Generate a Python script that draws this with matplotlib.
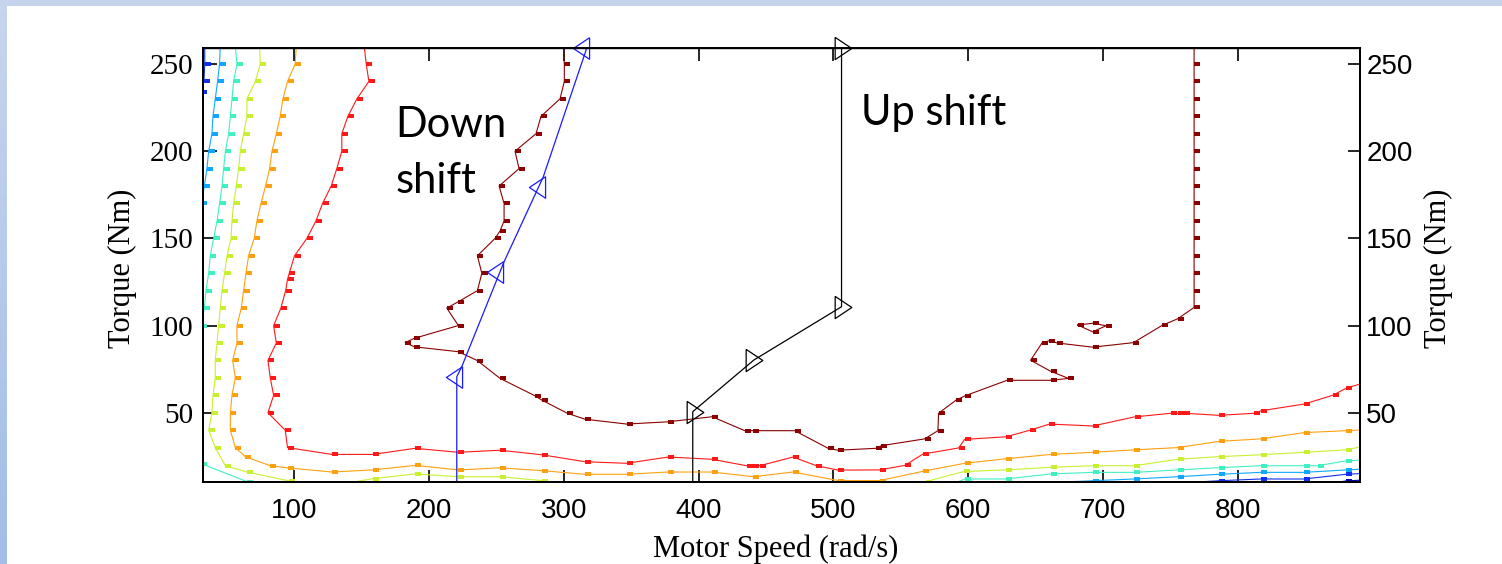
import numpy as np
import matplotlib
matplotlib.use("Agg")
import matplotlib.pyplot as plt
from matplotlib.colors import LinearSegmentedColormap
from matplotlib.patches import Rectangle

nan = np.nan

# efficiency contours (speed rad/s, torque Nm)
navy_speed = [870, 880.4, 891]
navy_torque = [9.5, 10.9, 11.3]

blue_speed = [33.6, 33.6, 33, 31, nan, 759, 786.4, 817.3, 849.4, 880.4, 891]
blue_torque = [260, 250, 240, 234, nan, 9.8, 11, 12, 12, 14.7, 15.1]

lightblue_speed = [45.1, 44.6, 43.1, 41.4, 39.7, 38.9, 36.5, 35.2, 33.3, 31, nan,
                   656, 692.5, 723.4, 755.6, 786.4, 817.3, 849.4, 880.4, 891]
lightblue_torque = [260, 250, 240, 230, 220, 210, 200, 190, 180, 170, nan,
                    9.8, 11, 12, 13.3, 14.7, 15.8, 15.8, 17.2, 17.6]

aqua_speed = [56.3, 57.5, 55, 53.8, 52.6, 51.3, 48.9, 47.6, 46.4, 44.6, 42.7, 40.2,
              37.7, 36.5, 34.5, 33.3, 31, nan, 31, 64.9, 70, nan,
              580, 598, 628, 661.5, 692.5, 723.4, 755.6, 786.4, 817.3, 849.4, 859.3, 880.4, 891]
aqua_torque = [260, 250, 240, 230, 220, 210, 200, 190, 180, 170, 160, 150,
               140, 130, 120, 110, 100, nan, 20.8, 10.5, 8.5, nan,
               7, 12, 12, 14.9, 15.8, 15.8, 17.2, 18.5, 19.6, 19.6, 19.6, 22.4, 22.8]

yellow_speed = [74.3, 74.8, 71.1, 64.9, 64.9, 62.4, 60, 58.7, 57, 55, 53.8, 53.1, 50.1,
                48.3, 46.4, 45.1, 43.9, 42.7, 41.4, 41.4, 39.7, 38.9, 36.5, 41.4, 48.9,
                64.9, 96, 120, 158.3, 189.7, 221.8, 252.7, 283.6, 320, 540, 568.6, 597,
                628.1, 661.5, 692.5, 723.4, 755.6, 786.4, 817.3, 849.4, 880.4, 891]
yellow_torque = [260, 250, 240, 230, 220, 210, 200, 190, 180, 170, 160, 150, 140,
                 130, 120, 110, 100, 90, 80, 70, 60, 50, 40, 30, 19.6,
                 16, 10.9, 7, 12.2, 14.9, 13.3, 13.3, 11.1, 7, 7, 10.5, 16.3,
                 17.2, 18.7, 19.6, 19.6, 23.3, 24.8, 25.9, 27.3, 28.7, 30.4]

orange_speed = [101.5, 100.7, 95, 91.6, 89.6, 86.7, 83.5, 81.7, 78.7, 75.3, 72.3, 70.3,
                66.1, 64.2, 62.4, 60.7, 57.5, 57.5, 54.3, 56.3, 53.8, 52.6, 52.6, 56.3,
                63.7, 82.2, 95, 127.9, 158.3, 189.7, 221.8, 252.7, 283.6, 315.7, 346.6,
                377.5, 410.1, 440.5, 470.1, 503.5, 534.4, 566.5, 597.4, 628.1, 661.5,
                692.5, 723.4, 755.6, 786.4, 817.3, 849.4, 880.4, 891]
orange_torque = [260, 250, 240, 230, 220, 210, 200, 190, 180, 170, 160, 150,
                 140, 130, 120, 110, 100, 90, 80, 70, 60, 50, 40, 30,
                 24.8, 19.6, 18.4, 16, 17.2, 19.8, 17.2, 18.4, 16.8, 14.7, 14.7,
                 16, 16, 13.3, 16, 11.1, 11.1, 16.4, 21, 23.6, 26.1,
                 27.3, 28.7, 30, 33.6, 35, 38.6, 39.7, 40.1]

red_speed = [152, 153.4, 155.4, 146.5, 139.8, 135.3, 135.3, 131.6, 127.4, 121, 116.1,
             109.4, 100.2, 96.3, 95, 93.6, 90.1, 84.7, 86.7, 80.5, 82.2, 84.7, 80.5,
             93.3, 95, 127.9, 158.3, 189.7, 221.8, 252.7, 283.6, 315.7, 346.6, 377.5,
             410.1, 435.6, 440.5, 445.4, 470.1, 487.5, 503.5, 534.4, 553, 566.5, 593,
             597.4, 628.1, 645.6, 660.4, 692.5, 723.5, 750.6, 755.6, 760.5, 786.4,
             812.4, 817.3, 849.5, 870.5, 880.4, 891]
red_torque = [260, 250, 240, 230, 220, 210, 200, 190, 180, 170, 160,
              150, 140, 130, 126.5, 120, 110, 100, 90, 80, 70, 60, 50,
              40, 30, 26.1, 26.1, 29.6, 27.3, 28.5, 25.9, 21.9, 21, 24.6,
              23.3, 19.6, 19.6, 19.6, 24.6, 19.6, 17.1, 17.2, 19.8, 26.3, 29.8,
              34.7, 36.2, 39.9, 43.5, 42.4, 47.6, 49.7, 49.7, 49.7, 48.5,
              49.7, 51.1, 55, 60, 64, 66.5]

darkred_speed = [299.7, 300.4, 300.4, 297.2, 283.1, 279.4, 263.8, 266.8, 252, 255.7,
                 255.7, 252.7, 249, 235.9, 239.2, 235.9, 221.8, 213.2, 221.8, 189.2,
                 182.3, 189.2, 221.8, 235.9, 252.7, 278.7, 283.6, 302.6, 315.7, 346.6,
                 377.5, 410.1, 434.3, 440.5, 471.4, 496.1, 503.5, 531.9, 535.6, 567.8,
                 577.6, 578.1, 591.2, 597.8, 628.9, 661.5, 674.5, 661.2, 646.4, 655,
                 660.4, 666.1, 692.5, 722.7, 744, 755.6, 767.7,
                 767.7, 767.7, 767.7, 767.7, 767.7, 767.7, 767.7, 767.7, 767.7,
                 767.7, 767.7, 767.7, 767.7, 767.7, 767.7]
darkred_torque = [260, 250, 240, 230, 220, 210, 200, 190, 180, 170,
                  160, 154.2, 150, 140, 130, 120, 113.7, 110, 100, 92.7,
                  90.2, 87.8, 85, 79.9, 69.7, 59.7, 57.3, 49.7, 46.3, 43.5,
                  44.8, 47.7, 39.7, 39.7, 39.7, 29.6, 28.5, 29.6, 31.1, 35,
                  39.7, 49.7, 57.3, 59.7, 68.6, 68.6, 69.7, 73.8, 80.1, 90.2,
                  91.3, 90, 87.6, 90.2, 100.1, 103.9, 110.4,
                  120, 130, 140, 150, 160, 170, 180, 190, 200,
                  210, 220, 230, 240, 250, 260]

loop_speed = [681.3, 692.5, 702.4, 692.5, 681.3]
loop_torque = [100.3, 101.3, 99.9, 96.4, 100.3]

# gear shift schedule
down_line_speed = [220.6, 220.6, 224.3, 255.7, 284.8, 317]
down_line_torque = [5, 70.6, 76.4, 136.6, 185.3, 259]
down_mark_speed = [218.4, 249.3, 280.1, 312.9]
down_mark_torque = [70.5, 130.6, 179.6, 259]

up_line_speed = [395.7, 395.7, 441, 506.1, 506.1]
up_line_torque = [5, 50.6, 80.2, 110.8, 259]
up_mark_speed = [397.5, 441, 506.9, 506.9]
up_mark_torque = [50.4, 80.2, 110.8, 259]

x_ticks = [100, 200, 300, 400, 500, 600, 700, 800]
y_ticks = [50, 100, 150, 200, 250]

contours = [
    (navy_speed, navy_torque, "#0000a8"),
    (blue_speed, blue_torque, "#1030f0"),
    (lightblue_speed, lightblue_torque, "#10a8ff"),
    (aqua_speed, aqua_torque, "#40f0c0"),
    (yellow_speed, yellow_torque, "#c8f030"),
    (orange_speed, orange_torque, "#ffa010"),
    (red_speed, red_torque, "#ff1818"),
    (darkred_speed, darkred_torque, "#8b0000"),
    (loop_speed, loop_torque, "#8b0000"),
]

dash = [(0, -0.4), (1, -0.4), (1, 0.4), (0, 0.4), (0, -0.4)]
tri_left = [(0.75, 1), (-0.75, 0), (0.75, -1), (0.75, 1)]
tri_right = [(-0.75, 1), (0.75, 0), (-0.75, -1), (-0.75, 1)]


def plot():
    fig = plt.figure(figsize=(15.02, 5.64), dpi=100)
    fig.patch.set_facecolor("white")

    # slide frame
    fig.add_artist(Rectangle((0, 1 - 6 / 564), 1, 6 / 564, transform=fig.transFigure,
                             color="#c5d4ec", lw=0))
    side = fig.add_axes([0, 0, 7 / 1502, 1 - 6 / 564])
    grad = np.linspace(0, 1, 100).reshape(-1, 1)
    cmap = LinearSegmentedColormap.from_list("frame", ["#c6d5ec", "#a4bde8"])
    side.imshow(grad, aspect="auto", cmap=cmap)
    side.axis("off")

    ax = fig.add_axes([203 / 1502, 81.7 / 564, 1157 / 1502, 434 / 564])

    for sp, tq, col in contours:
        ax.plot(sp, tq, color=col, lw=0.8, marker=dash, ms=8, mfc=col, mec=col, mew=0)

    ax.plot(down_line_speed, down_line_torque, color="#1a1aff", lw=0.9)
    ax.plot(down_mark_speed, down_mark_torque, ls="none", marker=tri_left, ms=15.5,
            mfc="none", mec="#1a1aff", mew=0.9, clip_on=False)
    ax.plot(up_line_speed, up_line_torque, color="black", lw=0.9)
    ax.plot(up_mark_speed, up_mark_torque, ls="none", marker=tri_right, ms=16,
            mfc="none", mec="black", mew=0.9, clip_on=False)

    ax.set_xlim(32.3, 890.8)
    ax.set_ylim(10.1, 259)

    ax.set_xticks(x_ticks, [str(t) for t in x_ticks], fontfamily="Liberation Sans",
                  fontsize=20)
    ax.set_yticks(y_ticks, [str(t) for t in y_ticks], fontfamily="Liberation Serif",
                  fontsize=21)
    ax.tick_params(axis="x", direction="in", length=9, width=1.2, top=True, pad=11.5)
    ax.tick_params(axis="y", direction="in", length=10, width=1.2, pad=7)

    ax2 = ax.twinx()
    ax2.set_ylim(ax.get_ylim())
    ax2.set_yticks(y_ticks, [str(t) for t in y_ticks], fontfamily="Liberation Sans",
                   fontsize=20)
    ax2.tick_params(axis="y", direction="in", length=9, width=1.2, pad=4.5)

    for a in (ax, ax2):
        for s in a.spines.values():
            s.set_linewidth(1.4)
    ax.spines["top"].set_linewidth(1.0)

    ax.set_xlabel("Motor Speed (rad/s)", fontfamily="Liberation Serif", fontsize=22,
                  va="baseline")
    ax.xaxis.set_label_coords(0.495, -0.1714)
    ax.set_ylabel("Torque (Nm)", fontfamily="Liberation Serif", fontsize=22, va="center")
    ax.yaxis.set_label_coords(-0.070, 0.4926)
    ax2.set_ylabel("Torque (Nm)", fontfamily="Liberation Serif", fontsize=22,
                   va="center", rotation=90)
    ax2.yaxis.set_label_coords(1.0674, 0.4926)

    ax.text(174.9, 208.1, "Down", fontfamily="Lato", fontsize=30, va="baseline")
    ax.text(174.9, 176, "shift", fontfamily="Lato", fontsize=30, va="baseline")
    ax.text(520.4, 215, "Up shift", fontfamily="Lato", fontsize=30, va="baseline")

    fig.savefig("out.png", dpi=100)


if __name__ == "__main__":
    plot()
